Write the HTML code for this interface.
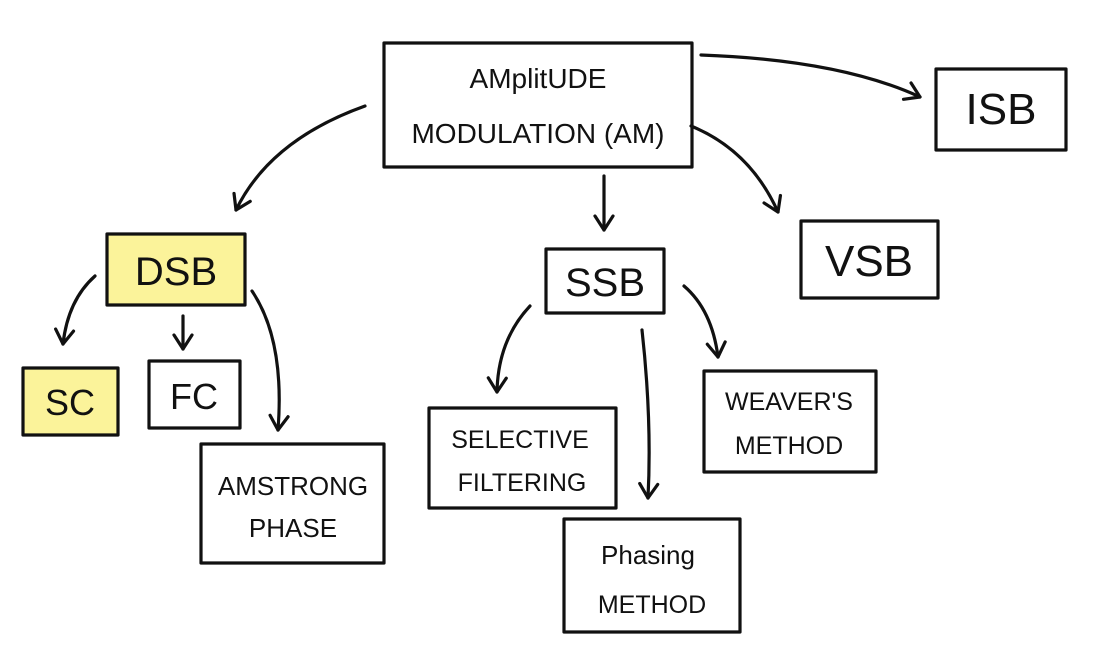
<!DOCTYPE html>
<html><head><meta charset="utf-8"><style>
html,body{margin:0;padding:0;background:#fff;}
svg{display:block;}
text{font-family:"Liberation Sans",sans-serif;fill:#111;text-anchor:middle;}
</style></head><body>
<svg width="1098" height="650" viewBox="0 0 1098 650">
<defs>
<marker id="ah" viewBox="0 0 20 20" refX="16" refY="10" markerWidth="20" markerHeight="20" orient="auto" markerUnits="userSpaceOnUse" style="overflow:visible">
<path d="M2,1 L16,10 L2,19" fill="none" stroke="#111" stroke-width="3.2" stroke-linecap="round" stroke-linejoin="round"/>
</marker>
</defs>
<g fill="none" stroke="#111" stroke-width="3.2" stroke-linejoin="round">
<rect x="384" y="43" width="308" height="124" fill="#fff"/>
<rect x="936" y="69" width="130" height="81"/>
<rect x="107" y="234" width="138" height="71" fill="#fbf39a"/>
<rect x="546" y="249" width="118" height="64"/>
<rect x="801" y="221" width="137" height="77"/>
<rect x="23" y="368" width="95" height="67" fill="#fbf39a"/>
<rect x="149" y="361" width="91" height="67"/>
<rect x="201" y="444" width="183" height="119"/>
<rect x="429" y="408" width="187" height="100"/>
<rect x="564" y="519" width="176" height="113"/>
<rect x="704" y="371" width="172" height="101"/>
</g>
<g fill="none" stroke="#111" stroke-width="3.2" stroke-linecap="round" marker-end="url(#ah)">
<path d="M365,106 Q270,140 236,210"/>
<path d="M701,55 Q840,60 920,97"/>
<path d="M604,176 L604,230"/>
<path d="M691,126 Q750,150 778,212"/>
<path d="M95,276 Q68,300 63,344"/>
<path d="M183,316 L183,349"/>
<path d="M252,291 Q285,340 278,430"/>
<path d="M530,306 Q498,340 497,392"/>
<path d="M642,330 Q652,420 648,498"/>
<path d="M684,286 Q712,310 718,357"/>
</g>
<g font-size="30">
<text x="538" y="88" font-size="28">AMplitUDE</text>
<text x="538" y="143" font-size="28">MODULATION (AM)</text>
<text x="1001" y="124" font-size="44">ISB</text>
<text x="176" y="285" font-size="40">DSB</text>
<text x="605" y="296" font-size="40">SSB</text>
<text x="869" y="276" font-size="44">VSB</text>
<text x="70" y="415" font-size="36">SC</text>
<text x="194" y="409" font-size="36">FC</text>
<text x="293" y="495" font-size="26">AMSTRONG</text>
<text x="293" y="537" font-size="26">PHASE</text>
<text x="520" y="448" font-size="25">SELECTIVE</text>
<text x="522" y="491" font-size="25">FILTERING</text>
<text x="648" y="564" font-size="26">Phasing</text>
<text x="652" y="613" font-size="25">METHOD</text>
<text x="789" y="410" font-size="25">WEAVER'S</text>
<text x="789" y="454" font-size="25">METHOD</text>
</g>
</svg>
</body></html>
